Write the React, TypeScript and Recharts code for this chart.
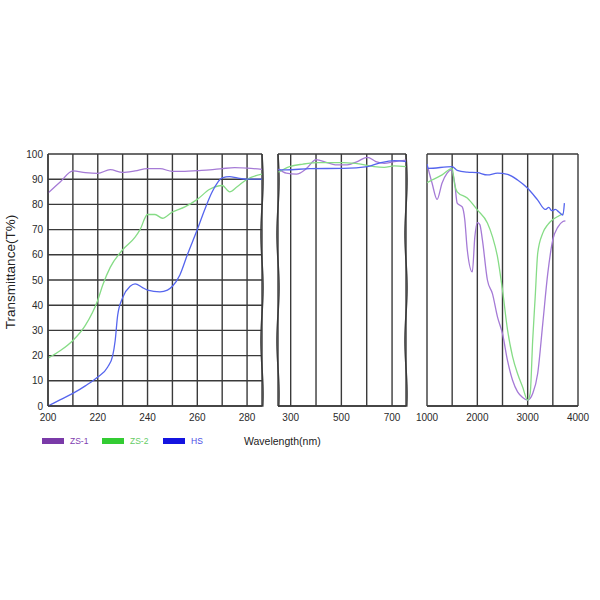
import { CartesianGrid, Line, LineChart, ReferenceLine, XAxis, YAxis } from "recharts";

type Pt = { x: number; y: number };
const pts = (rows: number[][]): Pt[] => rows.map(([x, y]) => ({ x, y }));

// left panel, 200-286 nm
const uvTicks = [200, 210, 220, 230, 240, 250, 260, 270, 280];
const uvLabels = [200, 220, 240, 260, 280];
const uvZs1 = pts([[200, 84.5], [205, 89], [210, 93.3], [215, 92.6], [220, 92.3], [225, 93.8], [230, 92.7], [235, 93.3], [240, 94.2], [245, 94.2], [250, 93.1], [255, 93.1], [260, 93.4], [265, 93.7], [270, 94.2], [275, 94.6], [280, 94.4], [286, 93.9]]);
const uvZs2 = pts([[200, 19], [205, 22], [210, 26], [215, 32], [220, 42], [222, 48], [225, 55], [230, 62], [235, 67], [237, 70], [240, 76], [243, 76], [246, 74.5], [250, 77], [255, 79], [260, 82], [265, 86], [270, 87.5], [273, 85], [276, 87], [280, 90], [286, 92]]);
const uvHs = pts([[200, 0], [205, 2.5], [210, 5], [215, 8], [220, 11.5], [224, 15.5], [226, 20], [227, 26], [228, 36], [230, 43], [233, 47.5], [235, 48.5], [238, 47], [240, 46], [245, 45.3], [248, 46], [250, 47.5], [253, 52], [256, 60], [260, 70], [263, 78], [266, 85], [270, 90.5], [273, 91], [276, 90.5], [280, 90], [286, 90]]);

// middle panel, visible range
const visTicks = [300, 400, 500, 600, 700];
const visLabels = [300, 500, 700];
const visZs1 = pts([[252, 94], [283, 92.4], [323, 92], [363, 94.3], [400, 97.8], [443, 96.6], [476, 95.7], [523, 95.7], [563, 97], [603, 98.7], [636, 97], [669, 96.3], [709, 97], [755, 97.6]]);
const visZs2 = pts([[252, 92.8], [296, 95], [349, 96], [409, 96.6], [509, 96.6], [576, 96], [629, 95], [669, 94.7], [709, 95.3], [755, 95]]);
const visHs = pts([[252, 93.7], [283, 93.7], [376, 94.2], [509, 94.3], [603, 95], [656, 96.6], [709, 97.4], [755, 97]]);

// right panel, infrared
const irTicks = [1000, 1500, 2000, 2500, 3000, 3500, 4000];
const irLabels = [1000, 2000, 3000, 4000];
const irZs1 = pts([[1000, 96], [1100, 88.5], [1200, 82], [1300, 88.5], [1400, 92.4], [1480, 93.7], [1550, 88.5], [1600, 80.5], [1700, 79], [1750, 74], [1800, 62], [1900, 53.2], [1950, 67], [2000, 72.8], [2050, 72], [2100, 66], [2200, 50], [2300, 44.6], [2400, 35.4], [2500, 28.7], [2600, 18], [2700, 10.2], [2800, 5.6], [2900, 3.4], [3000, 2.3], [3050, 3], [3100, 5], [3200, 13], [3300, 32.7], [3400, 52.7], [3500, 66], [3600, 71], [3700, 73.2], [3750, 73.5]]);
const irZs2 = pts([[1000, 88.6], [1100, 89.7], [1300, 91.7], [1500, 94.3], [1550, 87.8], [1600, 85], [1800, 82.5], [2000, 77.8], [2200, 72.6], [2300, 67.2], [2400, 59.3], [2500, 46], [2600, 30.2], [2700, 19.6], [2800, 12.8], [2900, 7.5], [3000, 2.3], [3050, 5], [3100, 26.2], [3150, 43.4], [3200, 60.7], [3300, 68.6], [3400, 72], [3500, 74], [3600, 75.2], [3700, 76.3]]);
const irHs = pts([[1000, 96], [1020, 94.3], [1500, 95], [1600, 93.5], [1800, 92.8], [2000, 92.6], [2200, 91.7], [2400, 92.4], [2600, 91.9], [2800, 89.7], [3000, 86.4], [3200, 81.7], [3350, 78], [3420, 78.8], [3480, 77.5], [3550, 78], [3620, 77], [3700, 75.8], [3730, 80.5]]);

const yTicks = [0, 10, 20, 30, 40, 50, 60, 70, 80, 90, 100];
const series = [
  { name: "ZS-1", line: "#a57ad6", swatch: "#7a3aa8", text: "#8040b0" },
  { name: "ZS-2", line: "#86dc86", swatch: "#33cc33", text: "#66cc66" },
  { name: "HS", line: "#5565ee", swatch: "#1414e0", text: "#4a4ae6" },
];

const font = "'Liberation Sans', Arial, sans-serif";
const gridColor = "#3a3a3a";
const tickStyle = { fontSize: 10, fill: "#2a2a2a", fontFamily: font };

// hand-drawn looking break edge
function WavyEdge(props: any) {
  const { x1, y1, y2 } = props;
  if (x1 == null || y1 == null || y2 == null) return null;
  const top = Math.min(y1, y2);
  const bottom = Math.max(y1, y2);
  let d = `M${x1},${top}`;
  for (let y = top; y <= bottom; y += 3) {
    d += ` L${(x1 + 1.1 * Math.sin((y - top) / 17)).toFixed(2)},${y}`;
  }
  d += ` L${x1},${bottom}`;
  return <path d={d} fill="none" stroke={gridColor} strokeWidth={1.4} />;
}

type PanelProps = {
  left: number;
  width: number;
  marginLeft: number;
  marginRight: number;
  domain: [number, number];
  ticks: number[];
  labels: number[];
  lines: Pt[][];
  showY?: boolean;
  edges: number[];
};

function Panel({ left, width, marginLeft, marginRight, domain, ticks, labels, lines, showY, edges }: PanelProps) {
  return (
    <div style={{ position: "absolute", left, top: 0 }}>
      <LineChart width={width} height={440} margin={{ top: 154, right: marginRight, bottom: 0, left: marginLeft }}>
        <CartesianGrid stroke={gridColor} strokeWidth={1.4} />
        <XAxis
          dataKey="x"
          type="number"
          domain={domain}
          ticks={ticks}
          allowDataOverflow
          height={34}
          tickLine={false}
          axisLine={{ stroke: gridColor, strokeWidth: 1.4 }}
          tick={tickStyle}
          tickFormatter={(v: number) => (labels.includes(v) ? String(v) : "")}
          interval={0}
        />
        <YAxis
          type="number"
          domain={[0, 100]}
          ticks={yTicks}
          width={showY ? 40 : 0}
          tick={showY ? { ...tickStyle, textAnchor: "end" } : false}
          tickLine={false}
          tickSize={0}
          tickMargin={5}
          axisLine={showY ? { stroke: gridColor, strokeWidth: 1.4 } : false}
          interval={0}
        />
        {edges.map((e) => (
          <ReferenceLine key={e} x={e} shape={WavyEdge} />
        ))}
        {lines.map((d, i) => (
          <Line
            key={series[i].name}
            data={d}
            dataKey="y"
            type="monotone"
            stroke={series[i].line}
            strokeWidth={1.3}
            dot={false}
            isAnimationActive={false}
          />
        ))}
      </LineChart>
    </div>
  );
}

export default function App() {
  return (
    <div style={{ position: "absolute", left: 0, top: 0, width: 600, height: 600, background: "#fff", fontFamily: font }}>
      <Panel left={0} width={270} marginLeft={8} marginRight={8} domain={[200, 286]} ticks={uvTicks} labels={uvLabels} lines={[uvZs1, uvZs2, uvHs]} showY edges={[286]} />
      <Panel left={270} width={142} marginLeft={8} marginRight={6} domain={[250, 755]} ticks={visTicks} labels={visLabels} lines={[visZs1, visZs2, visHs]} edges={[250, 755]} />
      <Panel left={412} width={188} marginLeft={15} marginRight={22} domain={[1000, 4000]} ticks={irTicks} labels={irLabels} lines={[irZs1, irZs2, irHs]} edges={[]} />
      <div
        style={{
          position: "absolute",
          left: 10,
          top: 272,
          transform: "translate(-50%, -50%) rotate(-90deg)",
          fontSize: 13.5,
          color: "#222",
          whiteSpace: "nowrap",
        }}
      >
        Transmittance(T%)
      </div>
      <div style={{ position: "absolute", left: 244, top: 435, fontSize: 10.5, color: "#222", whiteSpace: "nowrap" }}>Wavelength(nm)</div>
      {series.map((s, i) => (
        <div key={s.name} style={{ position: "absolute", left: [42, 102, 163][i], top: 436, display: "flex", alignItems: "center", whiteSpace: "nowrap" }}>
          <span style={{ display: "inline-block", width: 22, height: 6, background: s.swatch, marginRight: 6 }} />
          <span style={{ fontSize: 8.5, color: s.text }}>{s.name}</span>
        </div>
      ))}
    </div>
  );
}
